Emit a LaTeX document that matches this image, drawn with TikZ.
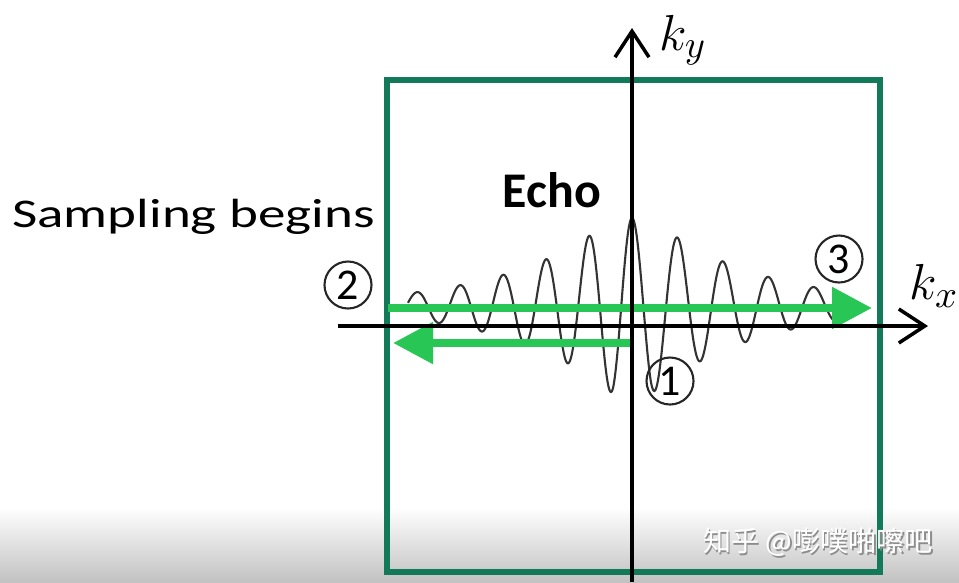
\documentclass[tikz,border=0pt]{standalone}
\usepackage{fontspec}
\setmainfont{Carlito}
\newfontfamily\cjk{Noto Sans CJK SC}
\usetikzlibrary{arrows.meta}

\definecolor{boxgreen}{RGB}{18,122,88}
\definecolor{beamgreen}{RGB}{40,198,84}

\begin{document}
\begin{tikzpicture}[
    axisline/.style={black, line width=1pt, -{Straight Barb[length=2.6mm, width=3.4mm, line width=1pt]}},
    beam/.style={beamgreen, line width=2.4pt, -{Triangle[length=4mm, width=4mm]}},
    numcircle/.style={circle, draw=black!85, line width=0.6pt, minimum size=0.47cm, inner sep=0pt, font=\fontsize{12.5}{12.5}\selectfont}
]
    \useasboundingbox (0,0) rectangle (9.59,5.82);

    % Bottom fade
    \shade[top color=white, bottom color=black!24] (0,0) rectangle (9.59,0.75);

    % k-space box
    \draw[boxgreen, line width=1.7pt] (3.87,0.10) rectangle (8.80,5.02);

    % Echo signal
    \draw[black!80, line width=0.6pt] plot[domain=4.08:8.33, samples=600, variable=\t]
        (\t, {2.76 + min(0.88, 1.05*exp(-abs(\t-6.32)/1.062))*cos(360*(\t-6.32)/(0.4425+0.0125*sign(\t-6.32)))});

    % Readout lines
    \coordinate (upstart) at (3.88,2.74);
    \coordinate (upend) at (8.72,2.74);
    \coordinate (lowstart) at (6.30,2.39);
    \coordinate (lowend) at (3.93,2.39);
    \draw[beam] (upstart) -- (upend);
    \draw[beam] (lowstart) -- (lowend);

    % Axes
    \coordinate (kxstart) at (3.38,2.56);
    \coordinate (kxend) at (9.28,2.56);
    \coordinate (kystart) at (6.32,0);
    \coordinate (kyend) at (6.32,5.54);
    \draw[axisline] (kxstart) -- (kxend);
    \draw[axisline] (kystart) -- (kyend);
    \node[inner sep=0pt, font=\fontsize{15}{18}\selectfont] (kx) at (9.34,2.96) {$k_x$};
    \node[inner sep=0pt, font=\fontsize{15}{18}\selectfont] (ky) at (6.83,5.42) {$k_y$};

    % Labels
    \node[anchor=base, inner sep=0pt, font=\fontsize{14.2}{16}\selectfont\bfseries] (echo) at (5.52,3.75) {Echo};
    \node[anchor=base, inner sep=0pt, font=\fontsize{11.6}{14}\selectfont] (begins) at (1.935,3.55) {\scalebox{1.35}[1]{Sampling begins}};

    % Numbered steps
    \foreach \n/\x/\y in {1/6.70/2.01, 2/3.48/2.97, 3/8.39/3.23} {
        \node[numcircle] (step\n) at (\x,\y) {\n};
    }

    % Watermark
    \node[text=black!45, font=\cjk\fontsize{8}{8}\selectfont] (markshadow) at (8.195,0.38) {知乎 @嘭噗啪嚓吧};
    \node[text=white, font=\cjk\fontsize{8}{8}\selectfont] (mark) at (8.18,0.395) {知乎 @嘭噗啪嚓吧};
\end{tikzpicture}
\end{document}
